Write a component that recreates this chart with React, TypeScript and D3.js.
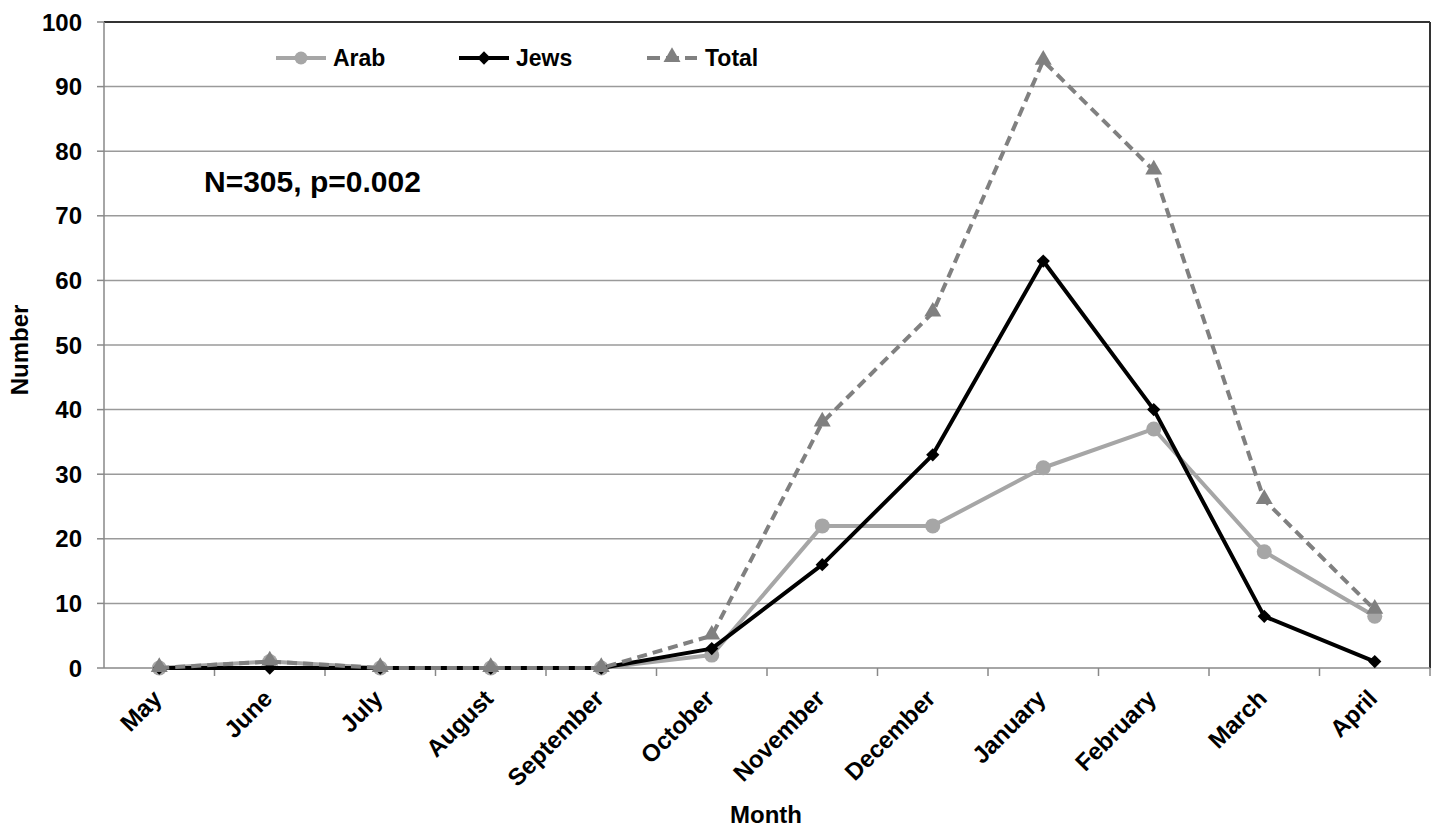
import React, { useEffect, useRef } from 'react';
import * as d3 from 'd3';

const months = ['May', 'June', 'July', 'August', 'September', 'October', 'November', 'December', 'January', 'February', 'March', 'April'];
const arab = [0, 1, 0, 0, 0, 2, 22, 22, 31, 37, 18, 8];
const jews = [0, 0, 0, 0, 0, 3, 16, 33, 63, 40, 8, 1];
const total = [0, 1, 0, 0, 0, 5, 38, 55, 94, 77, 26, 9];
const yTicks = [0, 10, 20, 30, 40, 50, 60, 70, 80, 90, 100];

const FONT = '"Liberation Sans", Arial, sans-serif';

export default function App() {
  const ref = useRef<SVGSVGElement | null>(null);

  useEffect(() => {
    const svg = d3.select(ref.current);
    svg.selectAll('*').remove();
    const width = 1434, height = 827;
    const margin = { top: 22, right: 4, bottom: 159, left: 104 };
    const innerW = width - margin.left - margin.right;
    const innerH = height - margin.top - margin.bottom;

    const x = d3.scaleBand<string>().domain(months).range([0, innerW]).paddingInner(0).paddingOuter(0);
    const y = d3.scaleLinear().domain([0, 100]).range([innerH, 0]);
    const cx = (i: number) => (x(months[i]) as number) + x.bandwidth() / 2;

    const g = svg.append('g').attr('transform', `translate(${margin.left},${margin.top})`);

    // grid
    g.selectAll('.grid').data(yTicks.filter(t => t > 0)).enter().append('line')
      .attr('x1', 0).attr('x2', innerW).attr('y1', d => y(d)).attr('y2', d => y(d))
      .attr('stroke', '#9a9a9a').attr('stroke-width', 1.5);
    // frame top and right
    g.append('line').attr('x1', 0).attr('x2', innerW).attr('y1', 0).attr('y2', 0).attr('stroke', '#333').attr('stroke-width', 2);
    g.append('line').attr('x1', innerW).attr('x2', innerW).attr('y1', 0).attr('y2', innerH).attr('stroke', '#333').attr('stroke-width', 2);

    // y axis
    g.append('line').attr('x1', 0).attr('x2', 0).attr('y1', 0).attr('y2', innerH).attr('stroke', '#888').attr('stroke-width', 1.5);
    yTicks.forEach(t => {
      g.append('line').attr('x1', -7).attr('x2', 0).attr('y1', y(t)).attr('y2', y(t)).attr('stroke', '#888').attr('stroke-width', 1.5);
      g.append('text').attr('x', -22).attr('y', y(t)).attr('dy', '0.36em').attr('text-anchor', 'end')
        .attr('font-family', FONT).attr('font-weight', 700).attr('font-size', 24).attr('fill', '#000').text(t);
    });

    // x axis
    g.append('line').attr('x1', 0).attr('x2', innerW).attr('y1', innerH).attr('y2', innerH).attr('stroke', '#888').attr('stroke-width', 1.5);
    months.forEach((m, i) => {
      const bx = x(m) as number;
      g.append('line').attr('x1', bx + x.bandwidth()).attr('x2', bx + x.bandwidth()).attr('y1', innerH).attr('y2', innerH + 8)
        .attr('stroke', '#888').attr('stroke-width', 1.5);
      g.append('text').attr('transform', `translate(${cx(i) + 4},${innerH + 32}) rotate(-45)`)
        .attr('text-anchor', 'end')
        .attr('font-family', FONT).attr('font-weight', 700).attr('font-size', 24).attr('fill', '#000').text(m);
    });

    const line = d3.line<number>().x((_, i) => cx(i)).y(d => y(d));
    const diamond = d3.symbol().type(d3.symbolDiamond2).size(112);
    const tri = d3.symbol().type(d3.symbolTriangle).size(125);

    const drawSeries = (data: number[], color: string, dash: string | null, marker: 'circle' | 'diamond' | 'triangle') => {
      const p = g.append('path').datum(data).attr('d', line).attr('fill', 'none').attr('stroke', color).attr('stroke-width', 4)
        .attr('stroke-linejoin', 'round');
      if (dash) p.attr('stroke-dasharray', dash);
      data.forEach((d, i) => {
        if (marker === 'circle') g.append('circle').attr('cx', cx(i)).attr('cy', y(d)).attr('r', 7.5).attr('fill', color);
        else g.append('path').attr('d', (marker === 'diamond' ? diamond : tri)() as string)
          .attr('transform', `translate(${cx(i)},${y(d) - (marker === 'triangle' ? 1 : 0)})`).attr('fill', color);
      });
    };
    drawSeries(arab, '#a6a6a6', null, 'circle');
    drawSeries(jews, '#000', null, 'diamond');
    drawSeries(total, '#808080', '10,6', 'triangle');

    // legend
    const legend = [
      { name: 'Arab', color: '#a6a6a6', dash: null, marker: 'circle', x0: 276, tx: 333 },
      { name: 'Jews', color: '#000', dash: null, marker: 'diamond', x0: 459, tx: 516 },
      { name: 'Total', color: '#808080', dash: '13,6', marker: 'triangle', x0: 647, tx: 705 },
    ];
    const ly = 58;
    legend.forEach(l => {
      const lg = svg.append('g');
      const ln = lg.append('line').attr('x1', l.x0).attr('x2', l.x0 + 50).attr('y1', ly).attr('y2', ly)
        .attr('stroke', l.color).attr('stroke-width', 4);
      if (l.dash) ln.attr('stroke-dasharray', l.dash);
      const mx = l.x0 + 25;
      if (l.marker === 'circle') lg.append('circle').attr('cx', mx).attr('cy', ly).attr('r', 6.5).attr('fill', l.color);
      else lg.append('path').attr('d', (l.marker === 'diamond' ? diamond : tri)() as string)
        .attr('transform', `translate(${mx},${ly - (l.marker === 'triangle' ? 1 : 0)})`).attr('fill', l.color);
      lg.append('text').attr('x', l.tx).attr('y', ly).attr('dy', '0.36em')
        .attr('font-family', FONT).attr('font-weight', 700).attr('font-size', 23).attr('fill', '#000').text(l.name);
    });

    // annotation
    svg.append('text').attr('x', 204).attr('y', 192).attr('font-family', FONT).attr('font-weight', 700)
      .attr('font-size', 30).attr('fill', '#000').text('N=305, p=0.002');

    // axis titles
    svg.append('text').attr('transform', `translate(28,350) rotate(-90)`).attr('text-anchor', 'middle')
      .attr('font-family', FONT).attr('font-weight', 700).attr('font-size', 24).attr('fill', '#000').text('Number');
    svg.append('text').attr('x', 766).attr('y', 823).attr('text-anchor', 'middle')
      .attr('font-family', FONT).attr('font-weight', 700).attr('font-size', 24).attr('fill', '#000').text('Month');
  }, []);

  return <svg ref={ref} width={1434} height={827} style={{ position: 'absolute', left: 0, top: 0, background: '#fff' }} />;
}
